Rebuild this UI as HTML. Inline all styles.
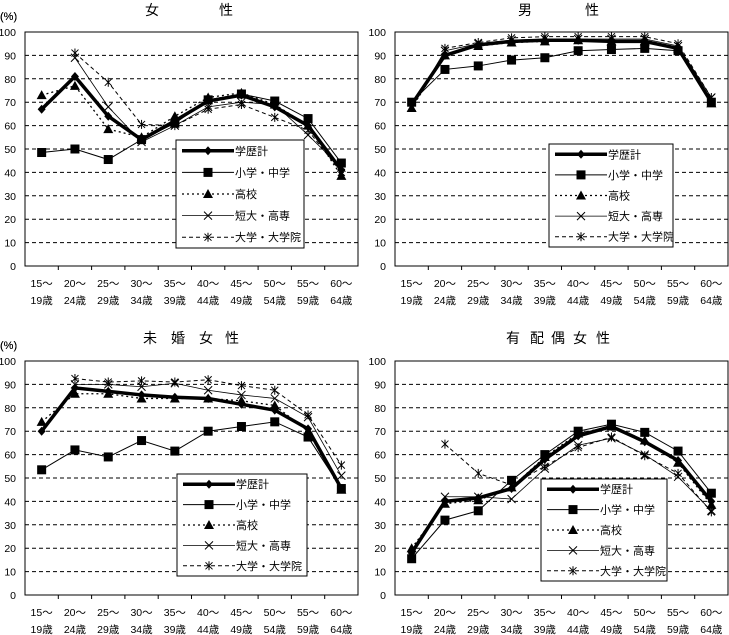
<!DOCTYPE html>
<html><head><meta charset="utf-8"><style>
html,body{margin:0;padding:0;background:#fff;}
svg{display:block;font-family:"Liberation Sans","Noto Sans CJK JP",sans-serif;}
</style></head><body>
<svg id="c" width="729" height="635" viewBox="0 0 729 635" xmlns="http://www.w3.org/2000/svg"></svg>
<script>
const categoriesTop = ["15～","20～","25～","30～","35～","40～","45～","50～","55～","60～"];
const categoriesBottom = ["19歳","24歳","29歳","34歳","39歳","44歳","49歳","54歳","59歳","64歳"];
const yTicks = [0,10,20,30,40,50,60,70,80,90,100];
const seriesNames = ["学歴計","小学・中学","高校","短大・高専","大学・大学院"];
const titles = ["女性","男性","未婚女性","有配偶女性"];
// female
const femTotal = [67,81,64,54,62,70.5,73,68,60,41];
const femJunior = [48.5,50,45.5,54,61,71,73.5,70.5,63,44];
const femHigh = [73,77,58.5,55,64,72,74,69,60,38.5];
const femCollege = [null,89,68,53,60,68,70,69,56,42];
const femUniv = [null,91,78.5,60.5,60,67,69,63.5,58,40];
// male
const maleTotal = [69,90,94.5,96,96.5,96.5,96,96,93,70];
const maleJunior = [70,84,85.5,88,89,92,92.5,93,92,70];
const maleHigh = [67.5,90,94,95.5,96,96.5,96,96,93,69.5];
const maleCollege = [68,92,95,96.5,97,97,97,97,94,72];
const maleUniv = [null,93,95.5,97.5,98,98,98,98,95,72];
// unmarried female
const unmTotal = [70,88.5,87,85.5,84.5,84,81.5,79,71,45.5];
const unmJunior = [53.5,62,59,66,61.5,70,72,74,67.5,45.5];
const unmHigh = [74,86,86,84,84,84,83,81,70,45];
const unmCollege = [null,90,90,89,90.5,87.5,85.5,84,76,51];
const unmUniv = [null,92.5,91,91.5,91,92,89.5,87.5,77,55.5];
// married female
const marTotal = [18,40,41.5,45.5,58,68,72,65.5,57.5,40];
const marJunior = [15.5,32,36,49,60,70,73,69.5,61.5,43.5];
const marHigh = [20,39,40.5,46,59,69,72,66,56.5,38.5];
const marCollege = [null,42,42,41,54,64,67,60,50.5,36];
const marUniv = [null,64.5,52,47,55,63,67.5,59.5,52,35.5];

const NS="http://www.w3.org/2000/svg";
const svg=document.getElementById('c');
function mk(tag,attrs,parent){const e=document.createElementNS(NS,tag);for(const k in attrs)e.setAttribute(k,attrs[k]);(parent||svg).appendChild(e);return e;}

const panels=[
 {x0:25,x1:358,yTop:32,yBot:266,title:titles[0],tpos:[152,226],ty:15,leg:[176,140,128,108],data:[femTotal,femJunior,femHigh,femCollege,femUniv],name:'female'},
 {x0:395,x1:728,yTop:32,yBot:266,title:titles[1],tpos:[525,592],ty:15,leg:[549,144,124,103],data:[maleTotal,maleJunior,maleHigh,maleCollege,maleUniv],name:'male'},
 {x0:25,x1:358,yTop:361,yBot:595,title:titles[2],tpos:[150,178,206,232],ty:343,leg:[177,474,130,102],data:[unmTotal,unmJunior,unmHigh,unmCollege,unmUniv],name:'unmarried-female'},
 {x0:395,x1:728,yTop:361,yBot:595,title:titles[3],tpos:[513,537,558,580,603],ty:343,leg:[541,479,126,102],data:[marTotal,marJunior,marHigh,marCollege,marUniv],name:'married-female'}
];
const styles=[
 {w:3.5,dash:null,m:'diamond'},
 {w:1,dash:null,m:'square'},
 {w:1.3,dash:'2,3',m:'triangle'},
 {w:0.8,dash:null,m:'x'},
 {w:1,dash:'4,3',m:'star'}
];
function marker(g,type,x,y){
 if(type==='diamond'){return mk('polygon',{points:`${x},${y-4.5} ${x+4},${y} ${x},${y+4.5} ${x-4},${y}`,fill:'#000'},g);}
 if(type==='square'){return mk('rect',{x:x-4.5,y:y-4.5,width:9,height:9,fill:'#000'},g);}
 if(type==='triangle'){return mk('polygon',{points:`${x},${y-5} ${x+5},${y+4} ${x-5},${y+4}`,fill:'#000'},g);}
 if(type==='x'){return mk('path',{d:`M${x-4},${y-4}L${x+4},${y+4}M${x+4},${y-4}L${x-4},${y+4}`,stroke:'#000','stroke-width':1,fill:'none'},g);}
 if(type==='star'){return mk('path',{d:`M${x-3.5},${y-3.5}L${x+3.5},${y+3.5}M${x+3.5},${y-3.5}L${x-3.5},${y+3.5}M${x},${y-4.5}L${x},${y+4.5}`,stroke:'#000','stroke-width':1,fill:'none'},g);}
}
panels.forEach((p,pi)=>{
 const g=mk('g',{});
 
 
 const n=categoriesTop.length;const cw=(p.x1-p.x0)/n;
 const xs=i=>p.x0+cw*(i+0.5);
 const ys=v=>p.yBot-(v/100)*(p.yBot-p.yTop);
 const tg=mk('g',{},g);
 
 
 [...p.title].forEach((ch,ci)=>{const t=mk('text',{x:p.tpos[ci],y:p.ty,'font-size':14,'text-anchor':'middle'},tg);t.textContent=ch;});
 const u=mk('text',{x:0,y:p.yTop-12,'font-size':11},g);u.textContent='(%)';
 
 yTicks.forEach(v=>{
  if(v>0&&v<100)mk('line',{x1:p.x0,x2:p.x1,y1:ys(v),y2:ys(v),stroke:'#000','stroke-dasharray':'4,3','stroke-width':1},g);
  const tl=mk('text',{x:p.x0-9,y:ys(v)+4,'font-size':10.5,'text-anchor':'end'},g);
  tl.textContent=v;
  
 });
 mk('rect',{x:p.x0,y:p.yTop,width:p.x1-p.x0,height:p.yBot-p.yTop,fill:'none',stroke:'#000','stroke-width':1},g);
 for(let i=1;i<n;i++)mk('line',{x1:p.x0+cw*i,x2:p.x0+cw*i,y1:p.yBot,y2:p.yBot+4,stroke:'#000'},g);
 categoriesTop.forEach((c,i)=>{
  const a=mk('text',{x:xs(i),y:p.yBot+21,'font-size':10.5,'text-anchor':'middle'},g);a.textContent=c;
  
  const b=mk('text',{x:xs(i),y:p.yBot+38,'font-size':10.5,'text-anchor':'middle'},g);b.textContent=categoriesBottom[i];
  
 });
 for(let s=4;s>=0;s--){
  const vals=p.data[s];const st=styles[s];
  let d='';let pen=false;
  vals.forEach((v,i)=>{if(v==null){pen=false;return;}d+=(pen?'L':'M')+xs(i)+','+ys(v);pen=true;});
  const path=mk('path',{d:d,fill:'none',stroke:'#000','stroke-width':st.w},g);
  if(st.dash)path.setAttribute('stroke-dasharray',st.dash);
  
  vals.forEach((v,i)=>{if(v==null)return;const m=marker(g,st.m,xs(i),ys(v));
   });
 }
 const [lx,ly,lw,lh]=p.leg;
 const lg=mk('g',{},g);
 
 mk('rect',{x:lx,y:ly,width:lw,height:lh,fill:'#fff',stroke:'#000','stroke-width':1},lg);
 const step=lh/5;
 seriesNames.forEach((nm,s)=>{
  const yy=ly+step*(s+0.5);const st=styles[s];
  const l=mk('line',{x1:lx+6,x2:lx+58,y1:yy,y2:yy,stroke:'#000','stroke-width':st.w},lg);
  if(st.dash)l.setAttribute('stroke-dasharray',st.dash);
  marker(lg,st.m,lx+32,yy);
  const tx=mk('text',{x:lx+59,y:yy+4,'font-size':11},lg);tx.textContent=nm;
  
 });
});
</script>
</body></html>
